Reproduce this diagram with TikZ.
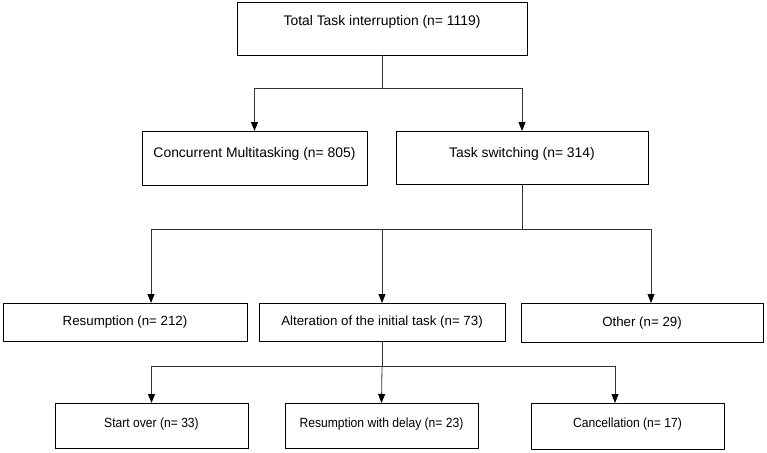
\documentclass[tikz,border=0pt]{standalone}
\usepackage{fontspec}
\setmainfont{Liberation Sans}
\newfontfamily\narrowfont[FakeStretch=0.91]{Liberation Sans}
\usetikzlibrary{arrows.meta}

\begin{document}
\begin{tikzpicture}[x=1pt,y=-1pt,
  every node/.style={draw, line width=0.8pt, inner sep=0pt, outer sep=0pt, font=\fontsize{13.3}{16}\selectfont},
  big/.style={font=\fontsize{13.9}{16}\selectfont},
  narrow/.style={font=\narrowfont\fontsize{13.3}{16}\selectfont},
  arr/.style={-{Triangle[length=9pt,width=7pt,color=black]}}]
\useasboundingbox (0,0) rectangle (767,452);

% boxes
\node[big, minimum width=290pt, text height=24pt, text depth=29pt] (total) at (382,28.5) {Total Task interruption (n= 1119)};

\node[big, minimum width=225pt, text height=26pt, text depth=28pt] (concurrent) at (254.5,158) {Concurrent Multitasking (n= 805)};
\node[big, minimum width=252pt, text height=26pt, text depth=27pt] (switching) at (522,157.5) {Task switching (n= 314)};

\node[minimum width=244pt, minimum height=38pt, text height=10pt, text depth=3pt] (resumption) at (125,322) {Resumption (n= 212)};
\node[minimum width=246pt, minimum height=38pt, text height=10pt, text depth=3pt] (alteration) at (382,322) {Alteration of the initial task (n= 73)};
\node[minimum width=242pt, minimum height=39pt, text height=10pt, text depth=3pt] (other) at (642,322.5) {Other (n= 29)};

\node[narrow, minimum width=193pt, text height=24pt, text depth=21pt] (startover) at (151.5,425.5) {Start over (n= 33)};
\node[narrow, minimum width=193pt, text height=24pt, text depth=21pt] (delay) at (381.5,425.5) {Resumption with delay (n= 23)};
\node[narrow, minimum width=193pt, text height=24pt, text depth=22pt] (cancel) at (627.5,426) {Cancellation (n= 17)};

% junctions
\coordinate (j1) at (382,88);
\coordinate (j2) at (522,229);
\coordinate (k1) at (151,229);
\coordinate (k3) at (651,229);
\coordinate (j3) at (382,366);
\coordinate (m3) at (615,366);

% connectors
\draw[line width=0.8pt, black!80] (total.south) -- (j1);
\draw[arr, line width=0.8pt, black!80] (j1) -| (concurrent.north);
\draw[arr, line width=0.8pt, black!80] (j1) -| (switching.north);

\draw[line width=0.8pt, black!80] (switching.south) -- (j2);
\draw[arr, line width=0.8pt, black!80] (j2) -- (k1) -- (k1 |- resumption.north);
\draw[arr, line width=0.8pt, black!80] (alteration.north |- j2) -- (alteration.north);
\draw[arr, line width=0.8pt, black!80] (j2) -- (k3) -- (k3 |- other.north);

\draw[line width=0.8pt, black!80] (alteration.south) -- (j3);
\draw[arr, line width=0.8pt, black!80] (j3) -| (startover.north);
\draw[arr, line width=0.8pt, black!80] (j3) -- (delay.north);
\draw[arr, line width=0.8pt, black!80] (j3) -- (m3) -- (m3 |- cancel.north);
\end{tikzpicture}
\end{document}
